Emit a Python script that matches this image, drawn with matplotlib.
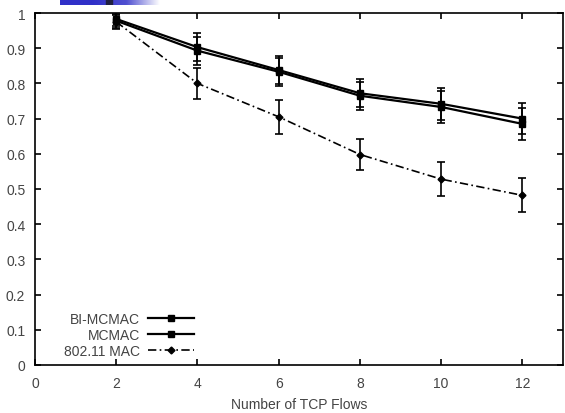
import matplotlib
matplotlib.use("Agg")
import matplotlib.pyplot as plt
from matplotlib.lines import Line2D
import numpy as np

plt.rcParams['font.family'] = ['Liberation Sans', 'DejaVu Sans']

flows = [2, 4, 6, 8, 10, 12]
bi_mcmac = [0.983, 0.903, 0.838, 0.772, 0.742, 0.700]
mcmac = [0.978, 0.893, 0.833, 0.765, 0.733, 0.685]
mac80211 = [0.975, 0.800, 0.705, 0.598, 0.528, 0.482]
err_bi = [0.02, 0.04, 0.04, 0.04, 0.045, 0.045]
err_mc = [0.02, 0.04, 0.04, 0.04, 0.045, 0.045]
err_80211 = [0.02, 0.043, 0.048, 0.045, 0.048, 0.048]

fig = plt.figure(figsize=(5.65, 4.14), dpi=100)
ax = fig.add_axes([35 / 565, 48 / 414, 528 / 565, 352 / 414])

text_color = '#444444'
dashdot = (0, (5, 2, 1, 2))

ax.errorbar(flows, mac80211, yerr=err_80211, color='black', lw=1.2,
            linestyle=dashdot, marker='D', markersize=3.5,
            capsize=3, elinewidth=1.2, capthick=1.2)
ax.errorbar(flows, mcmac, yerr=err_mc, color='black', lw=1.6,
            marker='s', markersize=4, capsize=3, elinewidth=1.2, capthick=1.2)
ax.errorbar(flows, bi_mcmac, yerr=err_bi, color='black', lw=1.6,
            marker='s', markersize=4, capsize=3, elinewidth=1.2, capthick=1.2)

ax.set_xlim(0, 13)
ax.set_ylim(0, 1)
ax.set_xticks([0, 2, 4, 6, 8, 10, 12])
ax.set_yticks(np.arange(0, 1.01, 0.1))
ax.set_yticklabels(['0', '0.1', '0.2', '0.3', '0.4', '0.5', '0.6', '0.7', '0.8', '0.9', '1'])
ax.tick_params(direction='in', length=4, width=1.2, labelsize=10,
               labelcolor=text_color, top=True, right=True)
ax.tick_params(axis='x', pad=8)
ax.tick_params(axis='y', pad=7)
for s in ax.spines.values():
    s.set_linewidth(1.2)
ax.set_xlabel('Number of TCP Flows', fontsize=10, color=text_color, labelpad=5)

handles = [
    Line2D([], [], color='black', lw=1.6, marker='s', markersize=4),
    Line2D([], [], color='black', lw=1.6, marker='s', markersize=4),
    Line2D([], [], color='black', lw=1.2, linestyle=dashdot, marker='D', markersize=3.5),
]
labels = ['BI-MCMAC', 'MCMAC', '802.11 MAC']
leg = ax.legend(handles, labels, loc='lower left',
                bbox_to_anchor=(26 / 528, 4 / 352), frameon=False, markerfirst=False,
                fontsize=10, handlelength=3.3, labelspacing=0.15,
                handletextpad=0.6, borderaxespad=0, borderpad=0.2)
for t in leg.get_texts():
    t.set_color(text_color)

# slide header remnant at top
bar = fig.add_axes([60 / 565, 1 - 6 / 414, 100 / 565, 6 / 414])
grad = np.linspace(0, 1, 256)[None, :]
bar.imshow(grad, aspect='auto', cmap=matplotlib.colors.LinearSegmentedColormap.from_list(
    'g', ['#3030c8', '#3030c8', '#5050d0', '#ffffff']), extent=[0, 1, 0, 1])
bar.add_patch(plt.Rectangle((0.46, 0), 0.06, 1, color='#202040'))
bar.set_axis_off()

plt.savefig('out.png', dpi=100)
